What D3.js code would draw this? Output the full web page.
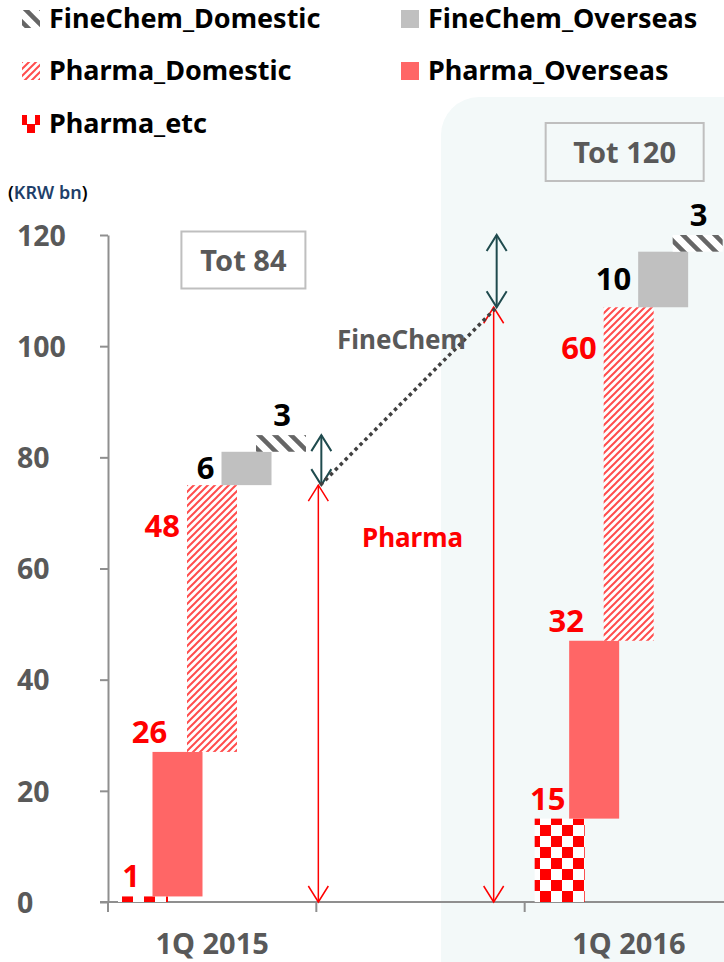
<!DOCTYPE html>
<html><head><meta charset="utf-8">
<script src="https://cdn.jsdelivr.net/npm/d3@7/dist/d3.min.js"></script>
<style>
html,body{margin:0;padding:0;background:#fff;}
svg{display:block;font-family:"Noto Sans","Open Sans",sans-serif;}
</style></head>
<body>
<script>
// ---- data ----
const categories = ["1Q 2015", "1Q 2016"];
const slots = ["1Q 2015", "", "1Q 2016"];
const seriesNames = ["Pharma_etc", "Pharma_Overseas", "Pharma_Domestic", "FineChem_Overseas", "FineChem_Domestic"];
const pharmaEtc = [1, 15];
const pharmaOverseas = [26, 32];
const pharmaDomestic = [48, 60];
const fineChemOverseas = [6, 10];
const fineChemDomestic = [3, 3];
const totals = [84, 120];
const yTicks = [0, 20, 40, 60, 80, 100, 120];
const legendOrder = ["FineChem_Domestic", "FineChem_Overseas", "Pharma_Domestic", "Pharma_Overseas", "Pharma_etc"];

const seriesValues = [pharmaEtc, pharmaOverseas, pharmaDomestic, fineChemOverseas, fineChemDomestic];

const W = 724, H = 962;
const svg = d3.select("body").append("svg").attr("width", W).attr("height", H);
const defs = svg.append("defs");

// patterns
const pDom = defs.append("pattern").attr("id", "pDom").attr("patternUnits", "userSpaceOnUse")
  .attr("width", 7).attr("height", 7);
pDom.append("rect").attr("width", 7).attr("height", 7).attr("fill", "#fff");
pDom.append("path").attr("d", "M-1,1 L1,-1 M0,7 L7,0 M6,8 L8,6")
  .attr("stroke", "#ff4d4d").attr("stroke-width", 2);

const pFD = defs.append("pattern").attr("id", "pFD").attr("patternUnits", "userSpaceOnUse")
  .attr("width", 16).attr("height", 16);
pFD.append("rect").attr("width", 16).attr("height", 16).attr("fill", "#fff");
pFD.append("path").attr("d", "M0,0 L16,16 M-8,8 L8,24 M8,-8 L24,8")
  .attr("stroke", "#666").attr("stroke-width", 4.5);

const pEtc = defs.append("pattern").attr("id", "pEtc").attr("patternUnits", "userSpaceOnUse")
  .attr("width", 22).attr("height", 22).attr("x", 1).attr("y", 0);
pEtc.append("rect").attr("width", 22).attr("height", 22).attr("fill", "#fff");
pEtc.append("rect").attr("width", 11).attr("height", 11).attr("fill", "#ff0000");
pEtc.append("rect").attr("x", 11).attr("y", 11).attr("width", 11).attr("height", 11).attr("fill", "#ff0000");

// small legend swatch for Pharma_etc
const pEtcLeg = defs.append("pattern").attr("id", "pEtcLeg").attr("patternUnits", "objectBoundingBox")
  .attr("width", 1).attr("height", 1);
pEtcLeg.append("rect").attr("width", 18).attr("height", 18).attr("fill", "#fff");
pEtcLeg.append("rect").attr("x", 0).attr("y", 0).attr("width", 5).attr("height", 10).attr("fill", "#ff0000");
pEtcLeg.append("rect").attr("x", 13).attr("y", 0).attr("width", 5).attr("height", 10).attr("fill", "#ff0000");
pEtcLeg.append("rect").attr("x", 5).attr("y", 9).attr("width", 8).attr("height", 9).attr("fill", "#ff0000");

const fills = {
  Pharma_etc: "url(#pEtc)",
  Pharma_Overseas: "#ff6666",
  Pharma_Domestic: "url(#pDom)",
  FineChem_Overseas: "#c0c0c0",
  FineChem_Domestic: "url(#pFD)"
};
const legendFills = Object.assign({}, fills, { Pharma_etc: "url(#pEtcLeg)" });
const labelColor = {
  Pharma_etc: "#ff0000", Pharma_Overseas: "#ff0000", Pharma_Domestic: "#ff0000",
  FineChem_Overseas: "#000", FineChem_Domestic: "#000"
};

// background highlight
svg.append("rect").attr("x", 441).attr("y", 97).attr("width", 340).attr("height", 920)
  .attr("rx", 38).attr("fill", "#f3f9f9");

// scales
const y = d3.scaleLinear().domain([0, 120]).range([902, 235]);
const x = d3.scaleBand().domain(slots).range([108, 733]);
const xi = d3.scaleLinear().domain([0, 4]).range([10, 148]);
const barW = 50;

// axes
const axisColor = "#8f8f8f";
const yAxis = svg.append("g").attr("transform", "translate(108,0)")
  .call(d3.axisLeft(y).tickValues(yTicks).tickSize(8).tickSizeOuter(0).tickPadding(0));
yAxis.select(".domain").attr("stroke", axisColor).attr("stroke-width", 2);
yAxis.selectAll(".tick line").attr("stroke", axisColor).attr("stroke-width", 2);
yAxis.selectAll(".tick text").attr("x", -91).attr("text-anchor", "start").attr("dy", "0.36em")
  .attr("fill", "#595959").attr("font-size", 28.5).attr("font-weight", "bold")
  .attr("font-family", "'Noto Sans', sans-serif");

svg.append("line").attr("x1", 100).attr("x2", W).attr("y1", y(0)).attr("y2", y(0))
  .attr("stroke", axisColor).attr("stroke-width", 2);
const bounds = slots.map(s => x(s)).concat([x.range()[1]]);
svg.selectAll(".xtick").data(bounds).enter().append("line")
  .attr("x1", d => d).attr("x2", d => d).attr("y1", y(0)).attr("y2", y(0) + 10)
  .attr("stroke", axisColor).attr("stroke-width", 2);
const xAxis = svg.append("g").attr("transform", `translate(0,${y(0)})`)
  .call(d3.axisBottom(x).tickValues(categories).tickSize(0).tickPadding(0));
xAxis.select(".domain").remove();
xAxis.selectAll(".tick text").attr("y", 52).attr("dy", 0)
  .attr("fill", "#595959").attr("font-size", 29).attr("font-weight", "bold")
  .attr("font-family", "'Noto Sans', sans-serif");

// unit label
const unit = svg.append("text").attr("x", 8).attr("y", 199).attr("font-size", 18).attr("font-weight", 600);
unit.append("tspan").attr("fill", "#000").text("(");
unit.append("tspan").attr("fill", "#1f3f6a").text("KRW bn");
unit.append("tspan").attr("fill", "#000").text(")");

// bars (waterfall)
const barsData = [];
categories.forEach((c, ci) => {
  let base = 0;
  seriesNames.forEach((s, si) => {
    const v = seriesValues[si][ci];
    barsData.push({ cat: c, ci, s, si, v, y0: base, y1: base + v });
    base += v;
  });
});
const bx = d => x(d.cat) + xi(d.si);
svg.append("g").selectAll("rect").data(barsData).enter().append("rect")
  .attr("x", bx).attr("width", barW)
  .attr("y", d => y(d.y1)).attr("height", d => y(d.y0) - y(d.y1))
  .attr("fill", d => fills[d.s]);

// value labels
svg.append("g").selectAll("text").data(barsData).enter().append("text")
  .attr("font-size", 31).attr("font-weight", "bold")
  .attr("fill", d => labelColor[d.s])
  .attr("text-anchor", d => (d.si === 2 || d.si === 3) ? "end" : "middle")
  .attr("x", d => {
    if (d.si === 2 || d.si === 3) return bx(d) - 7;
    if (d.si === 0) return bx(d) + 13;
    if (d.si === 1) return bx(d) - 3;
    return bx(d) + 26;
  })
  .attr("y", d => {
    if (d.si === 2) return y(d.y1) + 52;
    if (d.si === 3) return (y(d.y1) + y(d.y0)) / 2 + 11;
    return y(d.y1) - 9;
  })
  .text(d => d.v);

// total boxes
const totBox = [{ cx: x(categories[0]) + x.bandwidth() * 0.65, cy: 260, w: 124, h: 57 },
                { cx: x(categories[1]) + x.bandwidth() * 0.48, cy: 152, w: 158, h: 58 }];
totals.forEach((t, i) => {
  const b = totBox[i];
  svg.append("rect").attr("x", b.cx - b.w / 2).attr("y", b.cy - b.h / 2)
    .attr("width", b.w).attr("height", b.h).attr("fill", "none")
    .attr("stroke", "#bfbfbf").attr("stroke-width", 2);
  svg.append("text").attr("x", b.cx).attr("y", b.cy + 11).attr("text-anchor", "middle")
    .attr("font-size", 29).attr("font-weight", "bold").attr("fill", "#595959")
    .text("Tot " + t);
});

// arrows
function arrowHead(x0, y0, dir, color, sw) {
  svg.append("path")
    .attr("d", `M${x0 - 10},${y0 - dir * 16} L${x0},${y0} L${x0 + 10},${y0 - dir * 16}`)
    .attr("fill", "none").attr("stroke", color).attr("stroke-width", sw);
}
const pharmaTot = categories.map((c, ci) => pharmaEtc[ci] + pharmaOverseas[ci] + pharmaDomestic[ci]);
const arrowX = [x(slots[1]) + 2, x(slots[1]) + x.bandwidth() - 31];
const red = "#ff0000", teal = "#1f4b4e";
arrowX.forEach((ax, i) => {
  svg.append("line").attr("x1", ax).attr("x2", ax).attr("y1", y(pharmaTot[i])).attr("y2", y(0))
    .attr("stroke", red).attr("stroke-width", 1.5);
  arrowHead(ax, y(pharmaTot[i]), -1, red, 1.5);
  arrowHead(ax, y(0), 1, red, 1.5);
  const tx = ax + 3;
  svg.append("line").attr("x1", tx).attr("x2", tx).attr("y1", y(pharmaTot[i])).attr("y2", y(totals[i]))
    .attr("stroke", teal).attr("stroke-width", 2);
  arrowHead(tx, y(totals[i]), -1, teal, 2);
  arrowHead(tx, y(pharmaTot[i]), 1, teal, 2);
});
svg.append("line").attr("x1", arrowX[0] + 2).attr("y1", y(pharmaTot[0]))
  .attr("x2", arrowX[1] + 3).attr("y2", y(pharmaTot[1]))
  .attr("stroke", "#404040").attr("stroke-width", 3.5).attr("stroke-dasharray", "3.5,3.5");

svg.append("text").attr("x", 337).attr("y", 349).attr("font-size", 26).attr("font-weight", "bold")
  .attr("fill", "#595959").text("FineChem");
svg.append("text").attr("x", 362).attr("y", 547).attr("font-size", 26).attr("font-weight", "bold")
  .attr("fill", red).text("Pharma");

// legend
const legPos = {
  FineChem_Domestic: [22, 10], FineChem_Overseas: [401, 10],
  Pharma_Domestic: [22, 62], Pharma_Overseas: [401, 62],
  Pharma_etc: [22, 115]
};
legendOrder.forEach(s => {
  const [lx, ly] = legPos[s];
  svg.append("rect").attr("x", lx).attr("y", ly).attr("width", 18).attr("height", 18).attr("fill", legendFills[s]);
  svg.append("text").attr("x", lx + 27).attr("y", ly + 18).attr("font-size", 27).attr("font-weight", "bold")
    .attr("fill", "#000").text(s);
});
</script>
</body></html>
